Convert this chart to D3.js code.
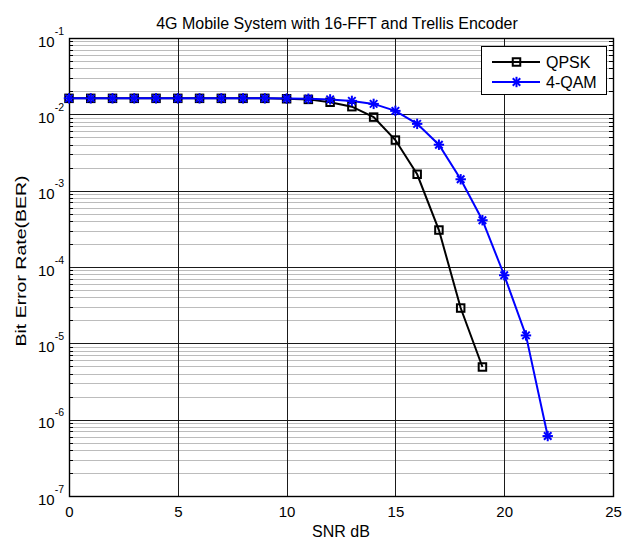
<!DOCTYPE html>
<html><head><meta charset="utf-8">
<script src="https://cdn.jsdelivr.net/npm/d3@7"></script>
<style>
html,body{margin:0;padding:0;background:#fff;}
svg{display:block;}
text{font-family:"Liberation Sans",Arial,Helvetica,sans-serif;}
</style></head><body>
<svg id="chart" width="635" height="542"></svg>
<script>
// ---- data ----
const snr = [0,1,2,3,4,5,6,7,8,9,10,11,12,13,14,15,16,17,18,19,20,21,22];
const qpskSNR = [0,1,2,3,4,5,6,7,8,9,10,11,12,13,14,15,16,17,18,19];
const qpskBER = [1.62e-2,1.62e-2,1.62e-2,1.62e-2,1.62e-2,1.62e-2,1.62e-2,1.62e-2,1.62e-2,1.62e-2,1.6e-2,1.57e-2,1.44e-2,1.26e-2,9.2e-3,4.6e-3,1.64e-3,3.05e-4,2.9e-5,4.9e-6];
const qamSNR = snr;
const qamBER = [1.62e-2,1.62e-2,1.62e-2,1.62e-2,1.62e-2,1.62e-2,1.62e-2,1.62e-2,1.62e-2,1.62e-2,1.61e-2,1.6e-2,1.57e-2,1.5e-2,1.37e-2,1.11e-2,7.5e-3,4.0e-3,1.41e-3,4.1e-4,7.8e-5,1.27e-5,6.1e-7];
const xTicks = [0,5,10,15,20,25];
const yExps = [-1,-2,-3,-4,-5,-6,-7];
const seriesNames = ["QPSK","4-QAM"];
const titleText = "4G Mobile System with 16-FFT and Trellis Encoder";
const xLabel = "SNR dB";
const yLabel = "Bit Error Rate(BER)";

// ---- layout ----
const L = 69, R = 613, T = 38, B = 496;
const svg = d3.select("#chart");
const x = d3.scaleLinear().domain([0,25]).range([L,R]);
const y = d3.scaleLog().domain([1e-7,1e-1]).range([B,T]);
const py = v => Math.round(y(v))+0.5;
const px = v => Math.round(x(v))+0.5;

// minor grid
const minor = [];
for (let e=-7; e<-1; e++) for (let m=2; m<=9; m++) minor.push(m*Math.pow(10,e));
const g = svg.append("g");
g.selectAll(".minor").data(minor).join("line")
  .attr("x1",L).attr("x2",R).attr("y1",py).attr("y2",py)
  .attr("stroke","#bcbcbc").attr("stroke-width",1);
g.selectAll(".majh").data(yExps.map(e=>Math.pow(10,e))).join("line")
  .attr("x1",L).attr("x2",R).attr("y1",py).attr("y2",py)
  .attr("stroke","#1a1a1a").attr("stroke-width",1);
g.selectAll(".majv").data(xTicks).join("line")
  .attr("x1",px).attr("x2",px).attr("y1",T).attr("y2",B)
  .attr("stroke","#1a1a1a").attr("stroke-width",1);
// minor tick marks left/right
g.selectAll(".mtl").data(minor).join("line")
  .attr("x1",L).attr("x2",L+4).attr("y1",py).attr("y2",py).attr("stroke","#000");
g.selectAll(".mtr").data(minor).join("line")
  .attr("x1",R-4).attr("x2",R).attr("y1",py).attr("y2",py).attr("stroke","#000");

// axes box
svg.append("rect").attr("x",L+0.5).attr("y",T+0.5).attr("width",R-L).attr("height",B-T)
  .attr("fill","none").attr("stroke","#000").attr("stroke-width",1.4);

// x tick labels via d3 axis
const xAxis = d3.axisBottom(x).tickValues(xTicks).tickSize(0).tickPadding(0).tickFormat(d3.format("d"));
const xa = svg.append("g").attr("transform",`translate(0,${B})`).call(xAxis);
xa.select(".domain").remove();
xa.selectAll("text").attr("font-size",15).attr("fill","#000").attr("dy",null).attr("y",21)
  .attr("font-family","'Liberation Sans',Arial,sans-serif");

// y tick labels 10^e
const yl = svg.append("g").selectAll("text").data(yExps).join("text")
  .attr("x",64).attr("y",d=>y(Math.pow(10,d))+8.5)
  .attr("text-anchor","end").attr("font-size",15).attr("fill","#000");
yl.append("tspan").text("10");
yl.append("tspan").attr("dy",-12).attr("font-size",10.5).text(d=>String(d));

// lines
const lineGen = d3.line().x(d=>x(d[0])).y(d=>y(d[1]));
const qpsk = qpskSNR.map((s,i)=>[s,qpskBER[i]]);
const qam = qamSNR.map((s,i)=>[s,qamBER[i]]);
svg.append("path").datum(qpsk).attr("d",lineGen).attr("fill","none")
  .attr("stroke","#000").attr("stroke-width",2);
svg.append("path").datum(qam).attr("d",lineGen).attr("fill","none")
  .attr("stroke","#0000ff").attr("stroke-width",2);

function square(sel,cx,cy){
  sel.append("rect").attr("x",cx-3.75).attr("y",cy-3.75).attr("width",7.5).attr("height",7.5)
    .attr("fill","none").attr("stroke","#000").attr("stroke-width",2);
}
function asterisk(sel,cx,cy){
  const r=5.2;
  const gg = sel.append("g").attr("stroke","#0000ff").attr("stroke-width",2);
  gg.append("line").attr("x1",cx-r).attr("x2",cx+r).attr("y1",cy).attr("y2",cy);
  gg.append("line").attr("x1",cx).attr("x2",cx).attr("y1",cy-r).attr("y2",cy+r);
  const d=r*0.72;
  gg.append("line").attr("x1",cx-d).attr("x2",cx+d).attr("y1",cy-d).attr("y2",cy+d);
  gg.append("line").attr("x1",cx-d).attr("x2",cx+d).attr("y1",cy+d).attr("y2",cy-d);
}
const mq = svg.append("g");
qpsk.forEach(d=>square(mq,x(d[0]),y(d[1])));
const ma = svg.append("g");
qam.forEach(d=>asterisk(ma,x(d[0]),y(d[1])));

// legend
const lg = svg.append("g");
lg.append("rect").attr("x",481.5).attr("y",46.5).attr("width",125).attr("height",48)
  .attr("fill","#fff").attr("stroke","#000").attr("stroke-width",1);
const rows=[62,82];
lg.append("line").attr("x1",492).attr("x2",540).attr("y1",rows[0]).attr("y2",rows[0]).attr("stroke","#000").attr("stroke-width",2);
square(lg,516.5,rows[0]);
lg.append("line").attr("x1",492).attr("x2",540).attr("y1",rows[1]).attr("y2",rows[1]).attr("stroke","#0000ff").attr("stroke-width",2);
asterisk(lg,516.5,rows[1]);
lg.selectAll(".lt").data(seriesNames).join("text")
  .attr("x",546).attr("y",(d,i)=>rows[i]+6).attr("font-size",16).attr("fill","#000").text(d=>d);

// title & labels
svg.append("text").attr("x",337).attr("y",29).attr("text-anchor","middle")
  .attr("font-size",16).attr("fill","#000").text(titleText);
svg.append("text").attr("x",(L+R)/2).attr("y",537).attr("text-anchor","middle")
  .attr("font-size",16).attr("fill","#000").text(xLabel);
svg.append("text").attr("transform",`translate(26,${(T+B)/2-6}) rotate(-90) scale(1.3,1)`).attr("text-anchor","middle")
  .attr("font-size",15).attr("fill","#000").text(yLabel);
</script>
</body></html>
